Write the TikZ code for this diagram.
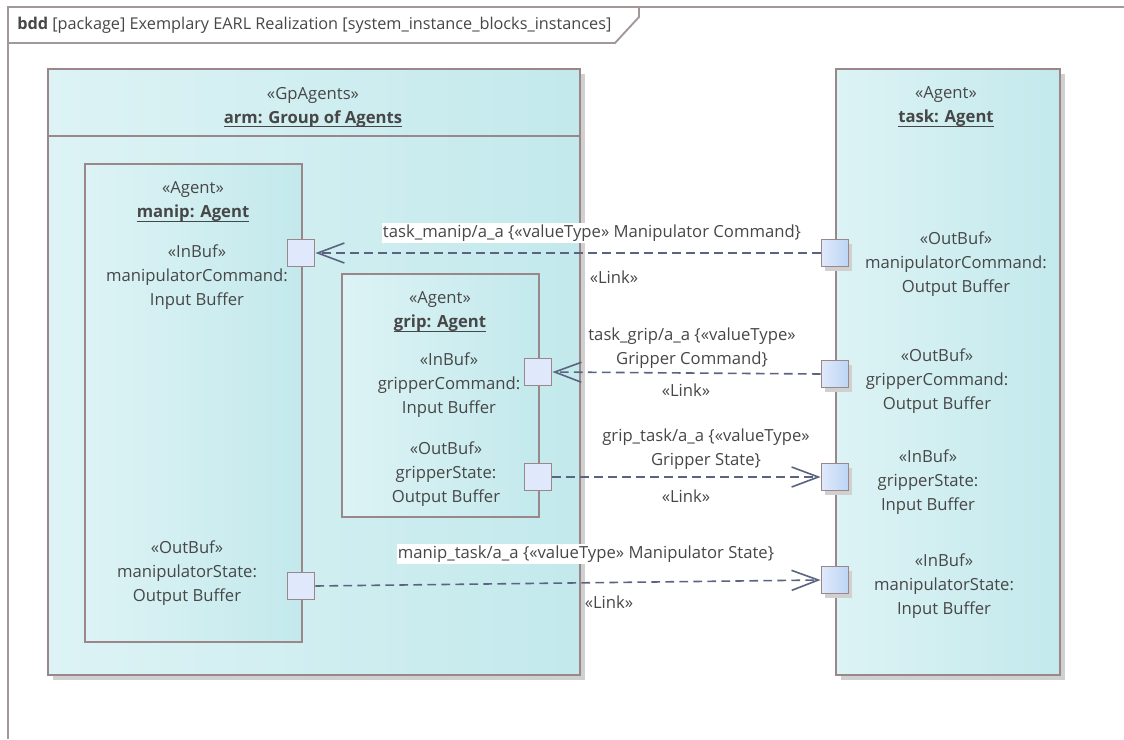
\documentclass[tikz,border=0pt]{standalone}
\usepackage{fontspec}
\setmainfont{Open Sans}
\usetikzlibrary{arrows.meta,shadows}
\definecolor{boxL}{HTML}{DDF3F5}
\definecolor{boxR}{HTML}{C3E9EC}
\definecolor{edge}{HTML}{9A878A}
\definecolor{portL}{HTML}{DFE9FB}
\definecolor{portR}{HTML}{BDD5F4}
\definecolor{linkc}{HTML}{5A6480}
\definecolor{ink}{HTML}{474747}
\definecolor{shade}{HTML}{D0D0D0}
\definecolor{framec}{HTML}{A39797}
% underlined instance name with a heavier rule
\newcommand\ulname[1]{\setbox0\hbox{#1}\rlap{\rule[-3pt]{\wd0}{0.9pt}}\box0}
\tikzset{
  txt/.style={text=ink, font=\fontsize{12.5}{18}\selectfont, align=center, inner sep=1pt},
  block/.style={draw=edge, line width=1.4pt, left color=boxL, right color=boxR,
    shading angle=90, anchor=north west, inner sep=0pt},
  shadowed/.style={drop shadow={shadow xshift=3.5pt, shadow yshift=-3.5pt, fill=shade, opacity=1}},
  port/.style={draw=edge, line width=1.4pt, fill=portL, minimum size=20.25pt, inner sep=0pt},
  tport/.style={port, left color=portL, right color=portR,
    drop shadow={shadow xshift=2.5pt, shadow yshift=-3pt, fill=shade, opacity=1}},
  linkline/.style={draw=linkc, line width=1.2pt, dash pattern=on 6.5pt off 4pt,
    -{Straight Barb[length=20pt, width=15pt, line width=1.2pt]}},
  lbl/.style={txt},
}
\begin{document}
\begin{tikzpicture}[x=0.75pt, y=-0.75pt]
\useasboundingbox (0,0) rectangle (1124,739);
\fill[white] (0,0) rectangle (1124,739);

% diagram frame and its name tab
\draw[framec, line width=1.6pt] (8,739) -- (8,7) -- (1124,7);
\draw[framec, line width=1.4pt] (8,43) -- (615,43) -- (639,17) -- (639,7);
\node[txt, font=\fontsize{12.2}{18}\selectfont, anchor=west, inner sep=0pt] (title) at (17,25)
  {\textbf{bdd} [package] Exemplary EARL Realization [system\_instance\_blocks\_instances]};

% group of agents
\node[block, shadowed, minimum width=399pt, minimum height=454.5pt] (arm) at (47,68) {};
\draw[edge, line width=1.4pt] (47,136) -- (579,136);
\node[txt] (armName) at (313,107) {«GpAgents»\\\ulname{\textbf{arm: Group of Agents}}};

% manip agent
\node[block, minimum width=162.75pt, minimum height=358.5pt] (manip) at (84,163) {};
\node[txt] (manipName) at (193,202) {«Agent»\\\ulname{\textbf{manip: Agent}}};
\node[txt] (manipIn) at (197,277) {«InBuf»\\manipulatorCommand:\\Input Buffer};
\node[txt] (manipOut) at (187,573) {«OutBuf»\\manipulatorState:\\Output Buffer};

% grip agent
\node[block, minimum width=147.75pt, minimum height=182.25pt] (grip) at (341,273) {};
\node[txt] (gripName) at (440,312) {«Agent»\\\ulname{\textbf{grip: Agent}}};
\node[txt] (gripIn) at (449,385) {«InBuf»\\gripperCommand:\\Input Buffer};
\node[txt] (gripOut) at (446,474) {«OutBuf»\\gripperState:\\Output Buffer};

% task agent
\node[block, shadowed, minimum width=168pt, minimum height=454.5pt] (task) at (835,68) {};
\node[txt] (taskName) at (946,107) {«Agent»\\\ulname{\textbf{task: Agent}}};
\node[txt] (taskMc) at (956,264) {«OutBuf»\\manipulatorCommand:\\Output Buffer};
\node[txt] (taskGc) at (937,381) {«OutBuf»\\gripperCommand:\\Output Buffer};
\node[txt] (taskGs) at (928,482) {«InBuf»\\gripperState:\\Input Buffer};
\node[txt] (taskMs) at (944,586) {«InBuf»\\manipulatorState:\\Input Buffer};

% ports
\node[port] (pManipIn) at (301,253) {};
\node[port] (pManipOut) at (301,586) {};
\node[port] (pGripIn) at (538,372) {};
\node[port] (pGripOut) at (538,477) {};
\node[tport] (pTaskMc) at (835,253) {};
\node[tport] (pTaskGc) at (835,374) {};
\node[tport] (pTaskGs) at (835,477) {};
\node[tport] (pTaskMs) at (835,580) {};

% links
\draw[linkline] (pTaskMc.west) -- (pManipIn.east);
\draw[linkline] (pTaskGc.west) -- (pGripIn.east);
\draw[linkline] (pGripOut.east) -- (pTaskGs.west);
\draw[linkline] (pManipOut.east) -- (pTaskMs.west);

% link labels
\node[lbl, fill=white] (l1) at (592,233) {task\_manip/a\_a \{«valueType» Manipulator Command\}};
\node[lbl] (l1s) at (614,277) {«Link»};
\node[lbl] (l2) at (692,348) {task\_grip/a\_a \{«valueType»\\Gripper Command\}};
\node[lbl] (l2s) at (686,390) {«Link»};
\node[lbl] (l3) at (706,449.5) {grip\_task/a\_a \{«valueType»\\Gripper State\}};
\node[lbl] (l3s) at (686,496) {«Link»};
\node[lbl, fill=white] (l4) at (586,554) {manip\_task/a\_a \{«valueType» Manipulator State\}};
\node[lbl] (l4s) at (609,602) {«Link»};
\end{tikzpicture}
\end{document}
